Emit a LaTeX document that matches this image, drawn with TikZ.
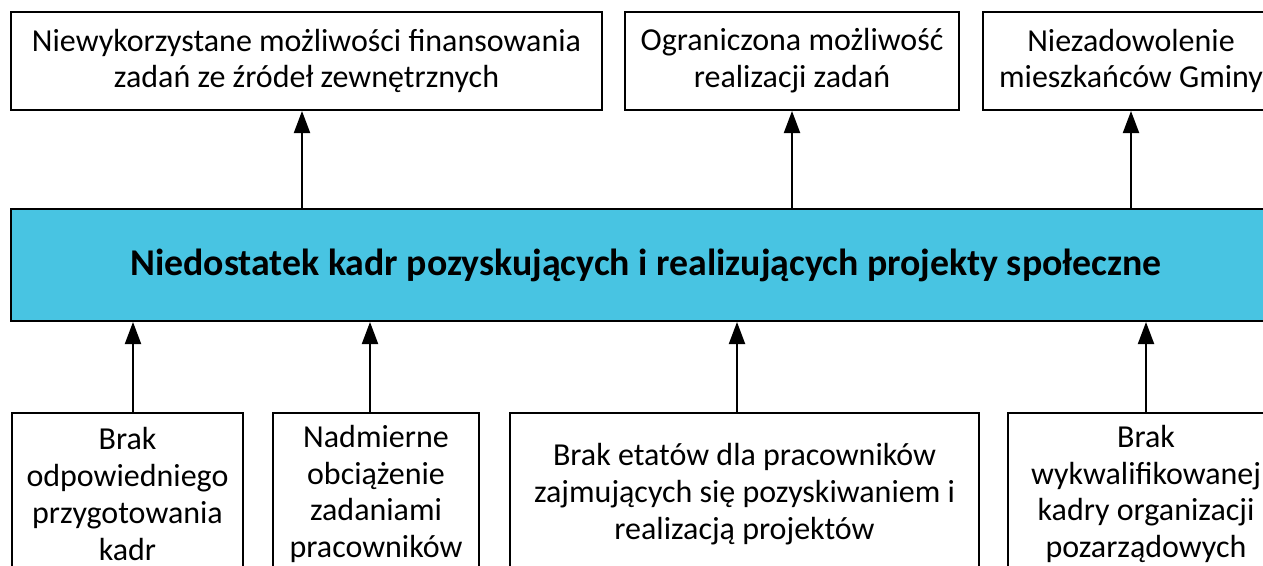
\documentclass[tikz,border=0pt]{standalone}
\usepackage{fontspec}
\setmainfont{Carlito}
\usetikzlibrary{arrows.meta,positioning}
\definecolor{PBlue}{HTML}{48C4E2}

\begin{document}
\begin{tikzpicture}[
  x=1pt, y=-1pt,
  box/.style={draw=black, line width=2pt, fill=white, inner sep=0pt, align=center, font=\fontsize{32}{36.8}\selectfont},
  main/.style={box, fill=PBlue, font=\fontsize{37.8}{44}\selectfont\bfseries},
  arrow/.style={-{Triangle[length=22pt,width=16pt]}, line width=2pt}
]
\useasboundingbox (0,0) rectangle (1263,565);
\clip (0,0) rectangle (1263,565);
% central problem
\node[main, minimum width=1270, minimum height=112] (prob) at (646,265) {Niedostatek kadr pozyskujących i realizujących projekty społeczne};
% effects
\node[box, minimum width=591, minimum height=98] (eff1) at (306.5,61) {Niewykorzystane możliwości finansowania\\zadań ze źródeł zewnętrznych};
\node[box, minimum width=334, minimum height=98] (eff2) at (792,61) {Ograniczona możliwość\\realizacji zadań};
\node[box, minimum width=296, minimum height=98] (eff3) at (1131,61) {Niezadowolenie\\mieszkańców Gminy};
% causes
\node[box, minimum width=231, minimum height=162] (cause1) at (127.5,494) {Brak\\odpowiedniego\\przygotowania\\kadr};
\node[box, minimum width=206, minimum height=162] (cause2) at (376,494) {Nadmierne\\obciążenie\\zadaniami\\pracowników};
\node[box, minimum width=469, minimum height=162] (cause3) at (744.5,494) {Brak etatów dla pracowników\\zajmujących się pozyskiwaniem i\\realizacją projektów};
\node[box, minimum width=276, minimum height=162] (cause4) at (1146,494) {Brak\\wykwalifikowanej\\kadry organizacji\\pozarządowych};
% arrows
\draw[arrow] ([xshift=-4.5pt]prob.north -| eff1.south) -- ([xshift=-4.5pt]eff1.south);
\draw[arrow] (prob.north -| eff2.south) -- (eff2.south);
\draw[arrow] (prob.north -| eff3.south) -- (eff3.south);
\draw[arrow] ([xshift=5.5pt]cause1.north) -- ([xshift=5.5pt]cause1.north |- prob.south);
\draw[arrow] ([xshift=-6pt]cause2.north) -- ([xshift=-6pt]cause2.north |- prob.south);
\draw[arrow] ([xshift=-7.5pt]cause3.north) -- ([xshift=-7.5pt]cause3.north |- prob.south);
\draw[arrow] (cause4.north) -- (cause4.north |- prob.south);
\end{tikzpicture}
\end{document}
